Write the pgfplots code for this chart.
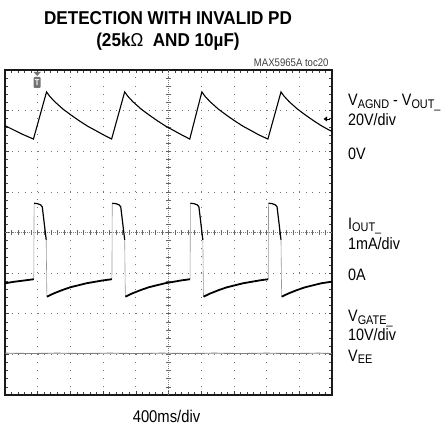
\documentclass[border=0pt]{standalone}
\usepackage{pgfplots}
\pgfplotsset{compat=1.18}
\usepackage{fontspec}
\setmainfont{Liberation Sans}[FakeStretch=0.87]
\newfontfamily\tfont{Liberation Sans}[FakeStretch=0.92]
\newcommand\sub[1]{\raisebox{-0.15em}{\fontsize{12.5}{13}\selectfont #1}}
\begin{document}
\begin{tikzpicture}[x=1pt,y=1pt]
\useasboundingbox (0,0) rectangle (444,427);
\begin{axis}[at={(5pt,32pt)}, anchor=south west, scale only axis,
  width=327pt, height=325pt,
  xmin=0, xmax=10, ymin=0, ymax=8,
  xtick={0,...,10}, ytick={0,...,8},
  minor x tick num=4, minor y tick num=4,
  xticklabels={}, yticklabels={},
  tick align=inside, major tick length=3.5pt, minor tick length=3pt,
  tick pos=both,
  tick style={black!75, line width=0.6pt},
  axis line style={line width=2.4pt, black!90},
  grid=major,
  x grid style={black!55, line width=0.7pt, dash pattern=on 0.7pt off 7.425pt},
  y grid style={black!55, line width=0.7pt, dash pattern=on 0.7pt off 5.84pt},
  unbounded coords=jump,
  clip=true]
% center crosshair
\draw[black!50, line width=0.5pt, dash pattern=on 1pt off 1pt] (axis cs:5,0) -- (axis cs:5,8);
\draw[black!50, line width=0.5pt, dash pattern=on 1pt off 1pt] (axis cs:0,4) -- (axis cs:10,4);
\pgfplotsinvokeforeach{0.2,0.4,...,9.8}{\draw[black!60, line width=0.5pt] ([yshift=-2.5pt]axis cs:#1,4) -- ([yshift=2.5pt]axis cs:#1,4);}
\pgfplotsinvokeforeach{0.2,0.4,...,7.8}{\draw[black!60, line width=0.5pt] ([xshift=-2.5pt]axis cs:5,#1) -- ([xshift=2.5pt]axis cs:5,#1);}
% VAGND - VOUT trace
\addplot[black, line width=1.1pt] coordinates {
(0,6.63) (0.25,6.53) (0.5,6.43) (0.87,6.30)
(1.27,7.46) (1.37,7.35) (1.52,7.22) (1.77,7.04) (2.02,6.89) (2.27,6.75) (2.52,6.62) (2.77,6.51) (3.02,6.40) (3.26,6.30)
(3.66,7.46) (3.76,7.35) (3.91,7.22) (4.16,7.04) (4.41,6.89) (4.66,6.75) (4.91,6.62) (5.16,6.51) (5.41,6.40) (5.65,6.30)
(6.02,7.46) (6.12,7.35) (6.27,7.22) (6.52,7.04) (6.77,6.89) (7.02,6.75) (7.27,6.62) (7.52,6.51) (7.77,6.40) (8.04,6.30)
(8.44,7.46) (8.54,7.35) (8.69,7.22) (8.94,7.04) (9.19,6.89) (9.44,6.75) (9.69,6.62) (9.94,6.51) (10.0,6.49)
};
% IOUT trace: fast edges (thin grey)
\addplot[black!40, line width=0.6pt] coordinates {
(0.88,2.85) (0.89,4.72) (1.1,nan)
(1.26,3.82) (1.28,2.42) (1.5,nan)
(3.27,2.85) (3.28,4.72) (3.5,nan)
(3.66,3.82) (3.68,2.42) (3.9,nan)
(5.66,2.85) (5.67,4.72) (5.8,nan)
(6.05,3.82) (6.07,2.42) (6.2,nan)
(8.05,2.85) (8.06,4.72) (8.2,nan)
(8.44,3.82) (8.46,2.42)
};
% IOUT trace: slow parts
\addplot[black, line width=1.2pt] coordinates {
(0.89,4.72) (0.99,4.71) (1.09,4.68) (1.14,4.63) (1.26,3.82) (1.27,nan)
(3.28,4.72) (3.39,4.71) (3.49,4.68) (3.54,4.63) (3.66,3.82) (3.67,nan)
(5.67,4.72) (5.78,4.71) (5.88,4.68) (5.93,4.63) (6.05,3.82) (6.06,nan)
(8.06,4.72) (8.17,4.71) (8.27,4.68) (8.32,4.63) (8.44,3.82)
};
\addplot[black, line width=1.8pt] coordinates {
(0,2.75) (0.3,2.79) (0.6,2.82) (0.88,2.85) (0.885,nan)
(1.28,2.42) (1.49,2.50) (1.74,2.58) (1.99,2.65) (2.49,2.75) (2.99,2.82) (3.27,2.85) (3.275,nan)
(3.68,2.42) (3.89,2.50) (4.14,2.58) (4.39,2.65) (4.89,2.75) (5.39,2.82) (5.66,2.85) (5.665,nan)
(6.07,2.42) (6.28,2.50) (6.53,2.58) (6.78,2.65) (7.28,2.75) (7.78,2.82) (8.05,2.85) (8.055,nan)
(8.46,2.42) (8.67,2.50) (8.92,2.58) (9.17,2.65) (9.67,2.75) (10.0,2.79)
};
% VGATE trace
\addplot[black!50, line width=0.9pt] coordinates {
(0,1.03) (0.8,1.02) (1.6,1.03) (2.4,1.02) (3.2,1.03) (4.0,1.02) (4.8,1.03) (5.6,1.02) (6.4,1.03) (7.2,1.02) (8.0,1.03) (8.8,1.02) (9.6,1.03) (10,1.02)
};
\end{axis}
% trigger marker
\fill[black!55] (33.6,355) -- (40.8,355) -- (37.2,351) -- cycle;
\node[fill=black!55, rounded corners=1pt, inner sep=0pt, minimum width=7pt, minimum height=11pt,
  text=white, font=\fontsize{8.5}{9}\selectfont\bfseries] at (37.2,344.5) {T};
% right level marker
\fill[black] (323.5,308) -- (327,310.5) -- (327,305.5) -- cycle;
\draw[black, line width=0.8pt] (326.5,308) -- (329.5,308);
% titles
\node[anchor=base, font=\tfont\bfseries\fontsize{18.6}{20}\selectfont] at (168,402) {DETECTION WITH INVALID PD};
\node[anchor=base, font=\tfont\bfseries\fontsize{18.6}{20}\selectfont] at (168,380.5) {(25k{\mdseries Ω}\ \ AND 10µF)};
\node[anchor=base east, text=black!75, font=\fontsize{11}{12}\selectfont] at (332,360.5) {MAX5965A toc20};
% right labels
\begin{scope}[every node/.style={anchor=base west, inner sep=0pt, font=\fontsize{16.5}{18}\selectfont}]
\node at (348,321) {V\sub{AGND} - V\sub{OUT\_}};
\node at (348,301.5) {20V/div};
\node at (348,267) {0V};
\node at (348,197.5) {I\sub{OUT\_}};
\node at (348,177) {1mA/div};
\node at (348,146.5) {0A};
\node at (348,105) {V\sub{GATE\_}};
\node at (348,86.5) {10V/div};
\node at (348,65.5) {V\sub{EE}};
\end{scope}
\node[anchor=base, inner sep=0pt, font=\fontsize{17}{18}\selectfont] at (166.5,4.5) {400ms/div};
\end{tikzpicture}
\end{document}
